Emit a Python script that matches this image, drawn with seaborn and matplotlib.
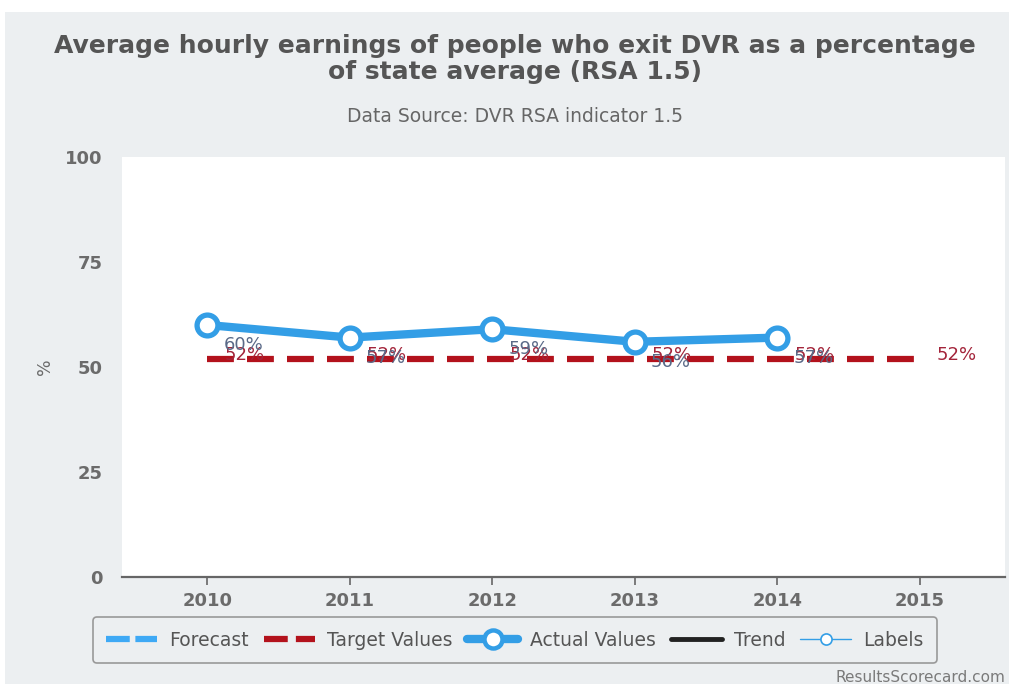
import matplotlib
matplotlib.use("Agg")
import matplotlib.pyplot as plt
from matplotlib.lines import Line2D
from matplotlib.patches import Rectangle
import seaborn as sns
import pandas as pd

# ---- data ----
years = [2010, 2011, 2012, 2013, 2014]
actual = [60, 57, 59, 56, 57]
target_years = [2010, 2011, 2012, 2013, 2014, 2015]
target = [52, 52, 52, 52, 52, 52]
yticks = [0, 25, 50, 75, 100]
xticks = [2010, 2011, 2012, 2013, 2014, 2015]

title = "Average hourly earnings of people who exit DVR as a percentage\nof state average (RSA 1.5)"
subtitle = "Data Source: DVR RSA indicator 1.5"

BG = "#eceff1"
BLUE = "#339ee6"
RED = "#b3121c"
RED_LBL = "#a3243a"
ACT_LBL = "#5a6a88"
TXT = "#555555"

sns.set_theme(style="white")
plt.rcParams["font.family"] = ["DejaVu Sans"]

fig = plt.figure(figsize=(10.09, 6.84), dpi=100, facecolor="white")
fig.patches.append(Rectangle((5 / 1009, 0), 1, (684 - 12) / 684, transform=fig.transFigure,
                             facecolor=BG, edgecolor="none", zorder=-10))

ax = fig.add_axes([122 / 1009, (684 - 577) / 684, 883 / 1009, 420 / 684])
ax.set_facecolor("white")

df_a = pd.DataFrame({"year": years, "value": actual})
df_t = pd.DataFrame({"year": target_years, "value": target})

sns.lineplot(data=df_t, x="year", y="value", ax=ax, color=RED, linewidth=4.5, zorder=2)
ax.lines[-1].set_dashes([4.3, 2.1])
sns.lineplot(data=df_a, x="year", y="value", ax=ax, color=BLUE, linewidth=6,
             marker="o", markersize=15, markerfacecolor="white", markeredgecolor=BLUE,
             markeredgewidth=3.8, zorder=3)

for x, v in zip(target_years, target):
    ax.annotate(f"{v}%", (x, v), xytext=(37, 4), textcoords="offset pixels",
                ha="center", va="center", color=RED_LBL, fontsize=13, zorder=4)
for x, v in zip(years, actual):
    ax.annotate(f"{v}%", (x, v), xytext=(36, -20), textcoords="offset pixels",
                ha="center", va="center", color=ACT_LBL, fontsize=13, zorder=5)

ax.set_xlim(2009.4, 2015.6)
ax.set_ylim(0, 100)
ax.set_xticks(xticks)
ax.set_yticks(yticks)
ax.set_xticklabels([str(t) for t in xticks], fontsize=13, fontweight="bold", color="#6b6b6b")
ax.set_yticklabels([str(t) for t in yticks], fontsize=13, fontweight="bold", color="#6b6b6b")
ax.tick_params(axis="x", length=6, width=1.2, color="#666666", pad=5, bottom=True)
ax.tick_params(axis="y", length=0, pad=14)
ax.set_xlabel("")
ax.set_ylabel("")
for s in ["top", "right", "left"]:
    ax.spines[s].set_visible(False)
ax.spines["bottom"].set_color("#666666")
ax.spines["bottom"].set_linewidth(1.6)

fig.text(45 / 1009, 1 - 367 / 684, "%", rotation=90, ha="center", va="center",
         fontsize=12.5, color="#6b6b6b")

fig.text(515 / 1009, 1 - 59 / 684, title, ha="center", va="center", fontsize=18,
         fontweight="bold", color=TXT, linespacing=1.08)
fig.text(515 / 1009, 1 - 117 / 684, subtitle, ha="center", va="center", fontsize=13.5,
         color="#666666")
fig.text(1005 / 1009, 1 - 677 / 684, "ResultsScorecard.com", ha="right", va="center",
         fontsize=11, color="#7a7a7a")

handles = [
    Line2D([], [], color="#3ea9f5", linewidth=4.5, dashes=[3.8, 0.9]),
    Line2D([], [], color=RED, linewidth=4.5, dashes=[3.8, 1.3]),
    Line2D([], [], color=BLUE, linewidth=6, marker="o", markersize=13,
           markerfacecolor="white", markeredgecolor=BLUE, markeredgewidth=3.2),
    Line2D([], [], color="#222222", linewidth=3.5),
    Line2D([], [], color=BLUE, linewidth=1, marker="o", markersize=8,
           markerfacecolor="white", markeredgecolor=BLUE, markeredgewidth=1.2),
]
labels = ["Forecast", "Target Values", "Actual Values", "Trend", "Labels"]
leg = fig.legend(handles, labels, loc="center", bbox_to_anchor=(515 / 1009, 1 - 640 / 684),
                 ncol=5, frameon=True, fontsize=13.5, handlelength=2.7, handletextpad=0.65,
                 columnspacing=0.8, fancybox=True, borderpad=0.7, borderaxespad=0,
                 labelcolor="#555555")
leg.get_frame().set_facecolor(BG)
leg.get_frame().set_edgecolor("#999999")
leg.get_frame().set_linewidth(1.2)
leg.get_frame().set_alpha(1)

fig.savefig("out.png", dpi=100, facecolor=fig.get_facecolor())
